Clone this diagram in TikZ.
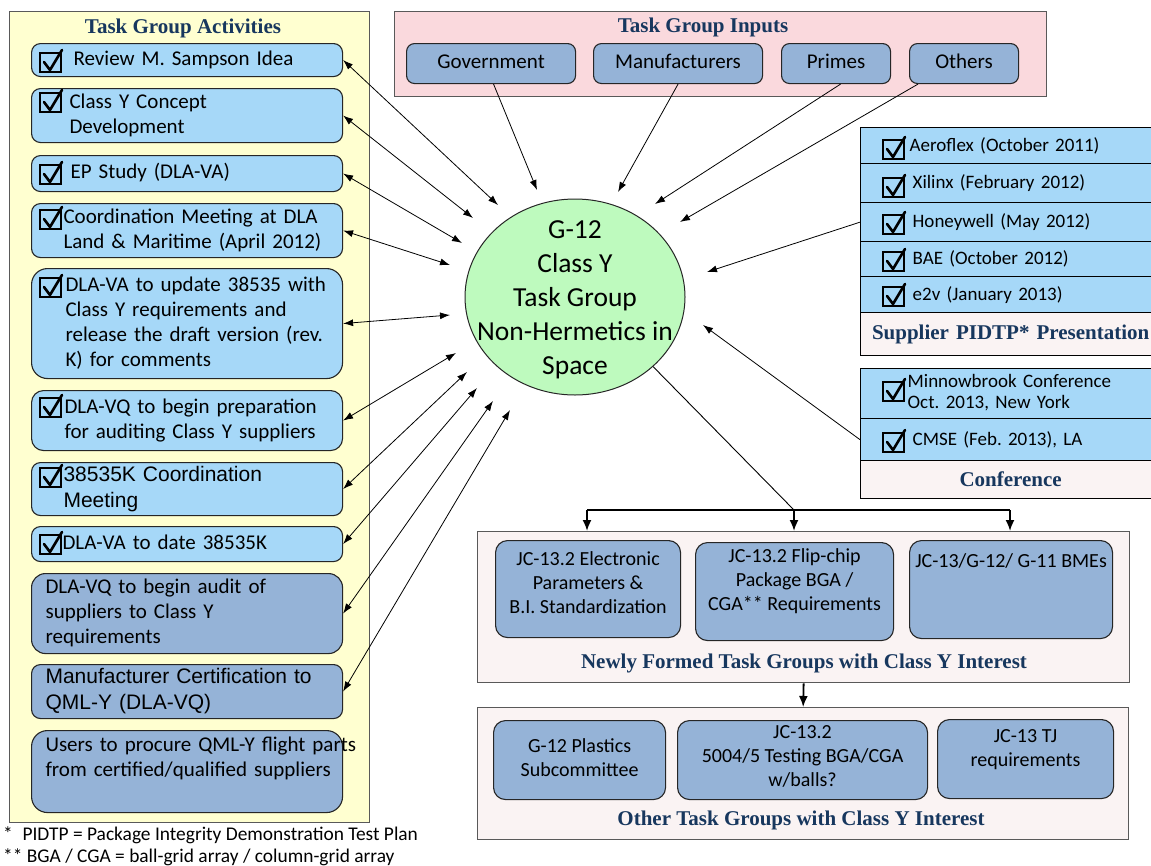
\documentclass[tikz,border=0pt]{standalone}
\usepackage{fontspec}
\setmainfont{Carlito}
\newfontfamily\arialf{Liberation Sans}
\newfontfamily\serff{Liberation Serif}
\usetikzlibrary{arrows.meta,shapes.geometric,calc}
\definecolor{navy}{RGB}{23,55,94}
\definecolor{lblue}{RGB}{166,216,248}
\definecolor{dblue}{RGB}{149,179,215}
\definecolor{pyellow}{RGB}{255,255,208}
\definecolor{ppink}{RGB}{250,217,221}
\definecolor{pgreen}{RGB}{190,250,190}
\definecolor{pwhite}{RGB}{250,243,243}
\newcommand\fL{\fontsize{21}{25}\selectfont}
\newcommand\fLa{\arialf\fontsize{21}{26}\selectfont}
\newcommand\fT{\serff\bfseries\fontsize{21}{25}\selectfont}
\newcommand\fS{\fontsize{19}{21.5}\selectfont}
\newcommand\fB{\fontsize{20}{24}\selectfont}
\newcommand\fC{\fontsize{27.5}{34}\selectfont}
\newcommand\fN{\fontsize{19.4}{22}\selectfont}
\newcommand\tl[1]{\begin{tabular}[t]{@{}l@{}}#1\end{tabular}}
\newcommand\tb[4]{\parbox[c][#1][t]{#2}{\centering\rule{0pt}{#3}#4}}
\frenchspacing
\begin{document}
\begin{tikzpicture}[x=1pt,y=-1pt,
  panel/.style={draw=black!65, line width=1.3pt, anchor=north west, inner sep=0pt},
  abox/.style={draw=black!85, line width=1.1pt, rounded corners=9pt, anchor=north west,
    inner sep=0pt, minimum width=311pt, text width=311pt, align=left, font=\fL},
  lb/.style={abox, fill=lblue},
  db/.style={abox, fill=dblue},
  ttl/.style={font=\fT, text=navy, inner sep=0pt},
  srow/.style={draw=black, line width=1.3pt, fill=lblue, anchor=north west,
    minimum width=300pt, text width=300pt, inner sep=0pt, align=left, font=\fS},
  ibox/.style={draw=black!85, line width=1.1pt, rounded corners=8pt, fill=dblue,
    anchor=north west, minimum height=40pt, inner sep=0pt, font=\fL,
    text height=14pt, text depth=4pt},
  bbox/.style={draw=black!85, line width=1.1pt, rounded corners=12pt, fill=dblue,
    anchor=north west, inner sep=0pt, font=\fB},
  bi/.style={{Latex[length=10pt,width=7pt]}-{Latex[length=10pt,width=7pt]}, line width=0.8pt},
  uni/.style={-{Latex[length=10pt,width=7pt]}, line width=0.8pt},
  brk/.style={line width=1.8pt},
  brka/.style={-{Latex[length=11pt,width=9pt]}, line width=1.8pt},
  chkbox/.pic={
    \draw[line width=2pt] (0,0) rectangle (21,19);
    \draw[line width=2.6pt, line cap=round, line join=round] (4,9) -- (10,17) -- (22,-3);
  }
]
\useasboundingbox (0,0) rectangle (1151,865);
\clip (0,0) rectangle (1151,865);

% ---------- left panel ----------
\node[panel, fill=pyellow, minimum width=360pt, minimum height=811pt] (lp) at (9,11) {};
\node[ttl, anchor=base] (lpt) at (183,33) {Task Group Activities};

\node[lb, minimum height=33pt] (rev) at (31,43) {\hspace*{42pt}\tl{Review M. Sampson Idea}};
\node[lb, minimum height=54pt] (ccd) at (31,88) {\hspace*{38pt}\tl{Class Y Concept\\Development}};
\node[lb, minimum height=36pt] (ep) at (31,155) {\hspace*{39pt}\tl{EP Study (DLA-VA)}};
\node[lb, minimum height=54pt] (coord) at (31,203) {\hspace*{32pt}\tl{Coordination Meeting at DLA\\Land \& Maritime (April 2012)}};
\node[lb, minimum height=110pt, rounded corners=16pt] (upd) at (31,268) {\hspace*{34pt}\tl{DLA-VA to update 38535 with\\Class Y requirements and\\release the draft version (rev.\\K) for comments}};
\node[lb, minimum height=60pt, rounded corners=12pt] (prep) at (31,390) {\hspace*{33pt}\tl{DLA-VQ to begin preparation\\for auditing Class Y suppliers}};
\node[lb, minimum height=53pt, font=\fLa] (kmeet) at (31,462) {\hspace*{32pt}\tl{38535K Coordination\\Meeting}};
\node[lb, minimum height=35pt] (date) at (31,526) {\hspace*{31pt}\tl{DLA-VA to date 38535K}};
\node[db, minimum height=80pt, rounded corners=14pt] (aud) at (31,573) {\hspace*{14pt}\tl{DLA-VQ to begin audit of\\suppliers to Class Y\\requirements}};
\node[db, minimum height=54pt, font=\fLa] (cert) at (31,664) {\hspace*{14pt}\tl{Manufacturer Certification to\\QML-Y (DLA-VQ)}};
\node[db, minimum height=82pt, rounded corners=16pt] (users) at (31,730) {\hspace*{14pt}\tl{Users to procure QML-Y flight parts\\from certified/qualified suppliers\\\mbox{}}};

\pic at (40,53) {chkbox};
\pic at (40,93) {chkbox};
\pic at (40,165) {chkbox};
\pic at (40,210) {chkbox};
\pic at (40,278) {chkbox};
\pic at (40,398) {chkbox};
\pic at (40,468) {chkbox};
\pic at (40,535) {chkbox};

% ---------- inputs ----------
\node[panel, fill=ppink, minimum width=652pt, minimum height=85pt] (ip) at (394,11) {};
\node[ttl, anchor=base] (ipt) at (703,32) {Task Group Inputs};
\node[ibox, minimum width=169pt] (gov) at (406,43) {Government};
\node[ibox, minimum width=169pt] (man) at (593,43) {Manufacturers};
\node[ibox, minimum width=109pt] (pri) at (781,43) {Primes};
\node[ibox, minimum width=109pt] (oth) at (909,43) {Others};

% ---------- centre ----------
\node[ellipse, draw=black!85, line width=1pt, fill=pgreen, minimum width=220pt,
  minimum height=196pt, inner sep=0pt,
  label={[font=\fC, align=center, inner sep=0pt, yshift=-3pt]center:G-12\\Class Y\\Task Group\\Non-Hermetics in\\Space}] (g12) at (575,297) {};

% ---------- supplier panel ----------
\node[srow, minimum height=36pt] (aer) at (860,127) {\hspace*{49pt}Aeroflex (October 2011)};
\node[srow, minimum height=39pt] (xil) at (860,163) {\hspace*{52pt}Xilinx (February 2012)};
\node[srow, minimum height=39pt] (hon) at (860,202) {\hspace*{52pt}Honeywell (May 2012)};
\node[srow, minimum height=35pt] (bae) at (860,241) {\hspace*{52pt}BAE (October 2012)};
\node[srow, minimum height=36pt] (etv) at (860,276) {\hspace*{52pt}e2v (January 2013)};
\node[srow, fill=pwhite, minimum height=43pt, align=center, font=\fT, text=navy] (spl) at (860,312) {Supplier PIDTP* Presentation};
\pic at (883,140) {chkbox};
\pic at (883,178) {chkbox};
\pic at (883,215) {chkbox};
\pic at (883,252) {chkbox};
\pic at (883,287) {chkbox};

% ---------- conference panel ----------
\node[srow, minimum height=50pt] (mnb) at (860,368) {\hspace*{47pt}\tl{Minnowbrook Conference\\Oct. 2013, New York}};
\node[srow, minimum height=42pt] (cmse) at (860,418) {\hspace*{52pt}CMSE (Feb. 2013), LA};
\node[srow, fill=pwhite, minimum height=38pt, align=center, font=\fT, text=navy] (cnf) at (860,460) {Conference};
\pic at (883,382) {chkbox};
\pic at (883,433) {chkbox};

% ---------- newly formed ----------
\node[panel, fill=pwhite, minimum width=652pt, minimum height=151pt] (np) at (477,531) {};
\node[bbox] (ea) at (495,540) {\tb{97pt}{185pt}{25pt}{JC-13.2 Electronic\\Parameters \&\\B.I. Standardization}};
\node[bbox] (eb) at (695,542) {\tb{98pt}{198pt}{20pt}{JC-13.2 Flip-chip\\Package BGA /\\CGA** Requirements}};
\node[bbox] (ec) at (909,540) {\tb{98pt}{203pt}{27pt}{JC-13/G-12/ G-11 BMEs}};
\node[ttl, anchor=base] (npl) at (804,668) {Newly Formed Task Groups with Class Y Interest};

% ---------- other ----------
\node[panel, fill=pwhite, minimum width=651pt, minimum height=132pt] (op) at (477,707) {};
\node[bbox] (oa) at (493,720) {\tb{79pt}{172pt}{32pt}{G-12 Plastics\\Subcommittee}};
\node[bbox] (ob) at (677,720) {\tb{79pt}{250pt}{18pt}{JC-13.2\\5004/5 Testing BGA/CGA\\w/balls?}};
\node[bbox] (oc) at (937,719) {\tb{79pt}{176pt}{23pt}{JC-13 TJ\\requirements}};
\node[ttl, anchor=base] (opl) at (801,825) {Other Task Groups with Class Y Interest};

% ---------- footnotes ----------
\node[anchor=base west, font=\fN, inner sep=0pt] (fna) at (3,840) {*\hspace{0.5em}PIDTP = Package Integrity Demonstration Test Plan};
\node[anchor=base west, font=\fN, inner sep=0pt] (fnb) at (3,862) {** BGA / CGA = ball-grid array / column-grid array};

% ---------- connectors ----------
\coordinate (tRev) at (498,205);
\coordinate (tCcd) at (473,218);
\coordinate (tEp) at (462,243);
\coordinate (tCoord) at (450,265);
\coordinate (tUpd) at (450,315);
\coordinate (tPrep) at (456,353);
\coordinate (tK) at (467,372);
\coordinate (tDate) at (477,388);
\coordinate (tAud) at (493,401);
\coordinate (tCert) at (510,410);
\draw[bi] (rev.east) -- (tRev);
\draw[bi] (ccd.east) -- (tCcd);
\draw[bi] (ep.east) -- (tEp);
\draw[bi] (coord.east) -- (tCoord);
\draw[bi] (upd.east) -- (tUpd);
\draw[bi] (prep.east) -- (tPrep);
\draw[bi] (kmeet.east) -- (tK);
\draw[bi] (date.east) -- (tDate);
\draw[bi] (aud.east) -- (tAud);
\draw[bi] (cert.east) -- (tCert);

\coordinate (tGov) at (537,190);
\coordinate (tMan) at (618,192);
\coordinate (tPri) at (655,204);
\coordinate (tOth) at (680,222);
\coordinate (tSup) at (707,272);
\coordinate (tCon) at (703,325);
\draw[uni] ($(gov.south)+(2.5,0)$) -- (tGov);
\draw[uni] (man.south) -- (tMan);
\draw[uni] ($(pri.south)+(4.5,0)$) -- (tPri);
\draw[uni] ($(oth.south west)+(9,0)$) -- (tOth);
\draw[uni] (hon.west) -- (tSup);
\draw[uni] (cmse.west) -- (tCon);

\coordinate (ba) at (587,510);
\coordinate (bb) at (794,510);
\coordinate (bc) at (1010,510);
\draw[line width=0.9pt] (g12.south east) -- (bb);
\draw[brk] (ba) -- (bc);
\draw[brka] (ba) -- (ba |- np.north);
\draw[brka] (bb) -- (bb |- np.north);
\draw[brka] (bc) -- (bc |- np.north);
\draw[brka] (np.south) -- (op.north);
\end{tikzpicture}
\end{document}
